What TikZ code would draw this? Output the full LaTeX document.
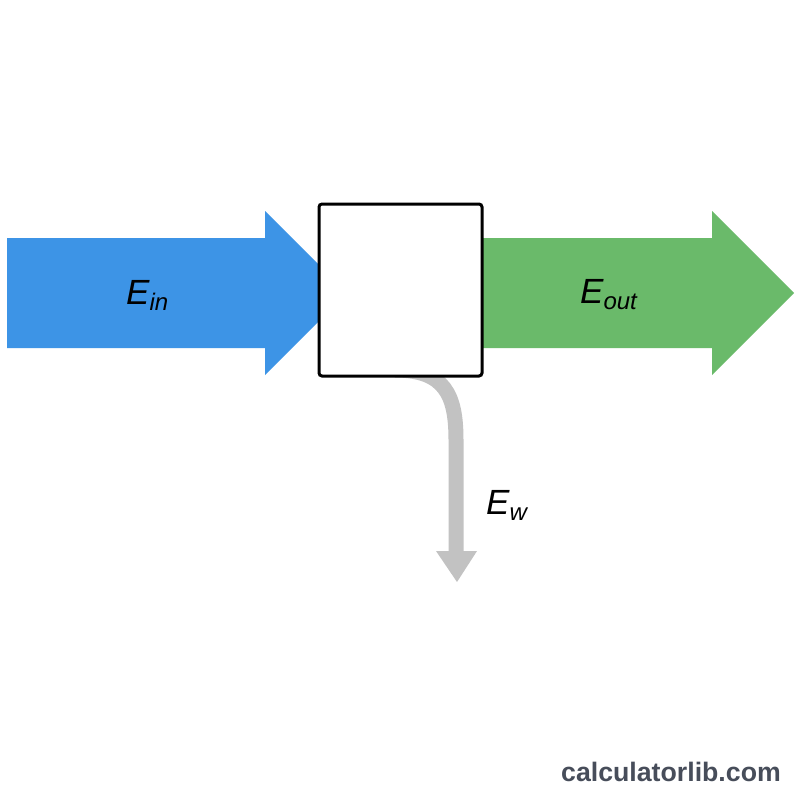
\documentclass[tikz,border=0pt]{standalone}
\usepackage{fontspec}
\setmainfont{Liberation Sans}
\definecolor{inblue}{HTML}{3D94E6}
\definecolor{outgreen}{HTML}{6ABA6A}
\definecolor{wastegrey}{HTML}{C2C2C2}
\definecolor{markgrey}{HTML}{474D5A}
\newcommand{\elab}[1]{{\fontsize{35}{35}\selectfont\itshape E}\raisebox{-6pt}{\fontsize{24}{24}\selectfont\itshape #1}}
\begin{document}
\begin{tikzpicture}[x=1pt,y=-1pt,
  sysbox/.style={draw=black,line width=3pt,fill=white,rounded corners=3pt,minimum width=163pt,minimum height=172pt,inner sep=0pt,outer sep=0pt},
  elabel/.style={anchor=base west,inner sep=0pt,text=black},
  wmark/.style={anchor=base west,inner sep=0pt,text=markgrey,font=\fontsize{26.7}{26.7}\selectfont\bfseries}]
\useasboundingbox[fill=white] (0,0) rectangle (800,800);
% blue input arrow
\fill[inblue] (7,238) -- (265,238) -- (265,211) -- (347,293) -- (265,375) -- (265,348) -- (7,348) -- cycle;
% green output arrow
\fill[outgreen] (483,238) -- (712,238) -- (712,211) -- (794,293) -- (712,375) -- (712,348) -- (483,348) -- cycle;
% grey waste arrow
\coordinate (wstart) at (395,370);
\coordinate (wbend) at (456,440);
\coordinate (wend) at (456,552);
\draw[wastegrey,line width=15pt] (wstart) .. controls (445,370) and (456,395) .. (wbend) -- (wend);
\fill[wastegrey] (436,551) -- (477,551) -- (457,582) -- cycle;
% system box
\node[sysbox] (box) at (400.5,290) {};
% labels
\node[elabel] (ein) at (126,304) {\elab{in}};
\node[elabel] (eout) at (580,303) {\elab{out}};
\node[elabel] (ew) at (486,514) {\elab{w}};
\node[wmark] (wm) at (561,781) {calculatorlib.com};
\end{tikzpicture}
\end{document}
